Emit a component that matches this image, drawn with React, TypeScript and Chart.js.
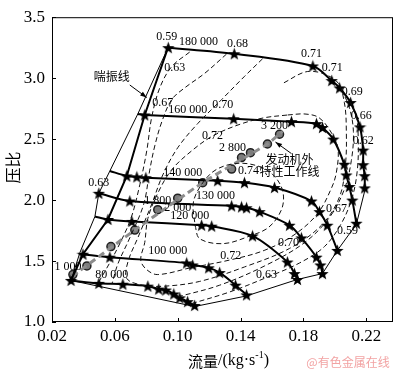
import React, { useEffect, useRef } from 'react';
import { Chart, registerables } from 'chart.js';
Chart.register(...registerables);

type Pt = [number, number];

const xTicks = [0.02, 0.06, 0.1, 0.14, 0.18, 0.22];
const yTicks = [1.0, 1.5, 2.0, 2.5, 3.0, 3.5];

// speed lines (rpm), first point may be on surge line (no star)
const speed180: Pt[] = [[0.094, 3.25], [0.136, 3.2], [0.186, 3.1], [0.198, 2.98], [0.203, 2.92], [0.21, 2.8], [0.216, 2.6], [0.218, 2.41], [0.218, 2.29], [0.219, 2.2], [0.219, 2.1]];
const speed160: Pt[] = [[0.0746, 2.706], [0.079, 2.698], [0.1356, 2.667], [0.1724, 2.643], [0.1883, 2.627], [0.1921, 2.595], [0.199, 2.5], [0.206, 2.294], [0.2073, 2.206], [0.2092, 2.111], [0.2111, 2.0], [0.2137, 1.81]];
const speed140: Pt[] = [[0.0568, 2.238], [0.0676, 2.198], [0.074, 2.19], [0.0797, 2.183], [0.1254, 2.159], [0.1425, 2.143], [0.1616, 2.103], [0.1851, 1.992], [0.1902, 1.905], [0.1952, 1.794], [0.2016, 1.587]];
const speed130: Pt[] = [[0.0498, 2.056], [0.0695, 1.992], [0.1343, 1.952], [0.1406, 1.944], [0.1438, 1.937], [0.1521, 1.905], [0.1711, 1.794], [0.1787, 1.69], [0.1883, 1.532], [0.1908, 1.468], [0.1921, 1.397]];
const speed120: Pt[] = [[0.0473, 1.865], [0.0556, 1.841], [0.0708, 1.825], [0.1152, 1.794], [0.1216, 1.786], [0.1476, 1.706], [0.1698, 1.492], [0.1743, 1.397], [0.1762, 1.349]];
const speed100: Pt[] = [[0.0397, 1.556], [0.0568, 1.532], [0.1057, 1.484], [0.1095, 1.468], [0.1197, 1.444], [0.1267, 1.405], [0.1368, 1.302], [0.1438, 1.222]];
const speed80: Pt[] = [[0.0321, 1.341], [0.0498, 1.317], [0.0651, 1.31], [0.081, 1.294], [0.0879, 1.27], [0.0924, 1.262], [0.0975, 1.23], [0.1013, 1.198], [0.1063, 1.167], [0.1108, 1.135]];

const surgeLine: Pt[] = [[0.0321, 1.341], [0.0378, 1.571], [0.0473, 1.865], [0.0498, 2.056], [0.0568, 2.238], [0.0746, 2.706], [0.0937, 3.246]];
const firstPointLine: Pt[] = [[0.0321, 1.341], [0.0397, 1.556], [0.0556, 1.841], [0.0676, 2.198], [0.079, 2.698], [0.0937, 3.246]];
const lowerLine: Pt[] = [[0.0321, 1.341], [0.1108, 1.127]];
const chokeLine: Pt[] = [[0.1108, 1.127], [0.1438, 1.214], [0.1762, 1.349], [0.1921, 1.397], [0.2016, 1.587], [0.2137, 1.802], [0.2194, 2.095]];

// engine operating line (rpm points)
const opPoints: Pt[] = [[0.0333, 1.389], [0.0422, 1.46], [0.0575, 1.619], [0.0727, 1.754], [0.0873, 1.921], [0.1, 2.016], [0.1159, 2.143], [0.1343, 2.254], [0.1406, 2.349], [0.1463, 2.389], [0.1571, 2.46], [0.1648, 2.54]];
const opTrend: Pt[] = [[0.0327, 1.373], [0.0727, 1.754], [0.1159, 2.143], [0.1571, 2.46], [0.1667, 2.563]];

// efficiency contours
const eff74: Pt[] = [[0.111, 1.794], [0.114, 1.683], [0.129, 1.643], [0.146, 1.706], [0.158, 1.778], [0.166, 1.921], [0.167, 2.063], [0.162, 2.19], [0.153, 2.27], [0.139, 2.302], [0.125, 2.254], [0.116, 2.143], [0.11, 1.984], [0.111, 1.794]];
const eff72: Pt[] = [[0.17, 2.698], [0.181, 2.706], [0.19, 2.675], [0.198, 2.548], [0.202, 2.421], [0.201, 2.23], [0.198, 2.103], [0.189, 1.889], [0.174, 1.714], [0.155, 1.587], [0.133, 1.508], [0.108, 1.444], [0.0873, 1.389], [0.0803, 1.429], [0.0765, 1.508], [0.079, 1.651], [0.081, 1.849], [0.087, 2.048], [0.096, 2.246], [0.109, 2.405], [0.122, 2.524], [0.139, 2.619], [0.155, 2.675], [0.17, 2.698]];
const eff70: Pt[] = [[0.154, 3.159], [0.1426, 3.016], [0.128, 2.825], [0.1127, 2.627], [0.1, 2.429], [0.0905, 2.206], [0.0835, 1.968], [0.0746, 1.69], [0.0683, 1.492], [0.0676, 1.357], [0.0778, 1.302], [0.0918, 1.294], [0.114, 1.333], [0.1426, 1.452], [0.1711, 1.603], [0.1915, 1.794], [0.2029, 2.024], [0.2067, 2.286], [0.2073, 2.563], [0.206, 2.802], [0.201, 2.976], [0.1838, 3.056], [0.166, 2.952]];
const eff67Left: Pt[] = [[0.1311, 3.198], [0.1172, 3.04], [0.1045, 2.921], [0.0962, 2.825], [0.0899, 2.643], [0.0854, 2.444], [0.0822, 2.246], [0.0784, 1.968], [0.0695, 1.69], [0.0619, 1.476], [0.0581, 1.31]];
const eff67Right: Pt[] = [[0.1, 1.206], [0.1267, 1.302], [0.1553, 1.46], [0.1807, 1.651], [0.1965, 1.857], [0.206, 2.087], [0.2105, 2.325], [0.2118, 2.563], [0.2092, 2.762], [0.2042, 2.905]];
const eff63Left: Pt[] = [[0.1076, 3.214], [0.0962, 3.095], [0.0886, 2.921], [0.0835, 2.683], [0.0803, 2.405], [0.0759, 2.127], [0.0702, 1.849], [0.0619, 1.611], [0.0543, 1.429], [0.0492, 1.317]];
const eff63Right: Pt[] = [[0.1089, 1.151], [0.133, 1.246], [0.1565, 1.365], [0.1775, 1.484], [0.1934, 1.619], [0.2042, 1.81], [0.2111, 2.024], [0.2143, 2.246], [0.2149, 2.484], [0.2137, 2.683], [0.2099, 2.802]];

// text labels [text, x, y]
const speedLabels: [string, number, number][] = [
  ['180 000', 0.1133, 3.294], ['160 000', 0.1064, 2.738], ['140 000', 0.1032, 2.222],
  ['130 000', 0.1241, 2.032], ['120 000', 0.1076, 1.873], ['100 000', 0.0937, 1.587], ['80 000', 0.0581, 1.389],
];
const rpmLabels: [string, number, number][] = [
  ['1 000', 0.0302, 1.452], ['1 800', 0.0873, 1.992], ['2 000', 0.1, 1.937], ['2 800', 0.1349, 2.429], ['3 200', 0.1616, 2.611],
];
const effLabels: [string, number, number][] = [
  ['0.59', 0.093, 3.342], ['0.68', 0.1381, 3.278], ['0.71', 0.1851, 3.198], ['0.71', 0.1984, 3.088],
  ['0.69', 0.2111, 2.889], ['0.66', 0.2168, 2.69], ['0.62', 0.2181, 2.484], ['0.63', 0.0981, 3.088],
  ['0.67', 0.0905, 2.794], ['0.70', 0.1286, 2.778], ['0.72', 0.1222, 2.524], ['0.74', 0.1451, 2.238],
  ['0.63', 0.0498, 2.143], ['0.67', 0.201, 1.929], ['0.59', 0.208, 1.746], ['0.70', 0.1705, 1.651],
  ['0.72', 0.1337, 1.54], ['0.63', 0.1565, 1.389],
];
const cnLabels: [string, number, number][] = [
  ['喘振线', 0.0581, 3.016], ['发动机外', 0.1711, 2.333], ['特性工作线', 0.1711, 2.238],
];
const arrows: [number, number, number, number][] = [
  [0.0695, 2.944, 0.0803, 2.841],
  [0.1724, 2.381, 0.1622, 2.476],
];

const SERIF = '"Liberation Serif", "Times New Roman", serif';
const CJK = '"Noto Sans CJK SC", sans-serif';

function makeStar(size: number) {
  const c = document.createElement('canvas');
  c.width = size;
  c.height = size;
  const g = c.getContext('2d')!;
  const R = size / 2;
  const r = R * 0.42;
  g.beginPath();
  for (let i = 0; i < 10; i++) {
    const a = -Math.PI / 2 + (i * Math.PI) / 5;
    const rr = i % 2 === 0 ? R : r;
    const px = R + rr * Math.cos(a);
    const py = R + 0.6 + rr * Math.sin(a);
    if (i === 0) g.moveTo(px, py);
    else g.lineTo(px, py);
  }
  g.closePath();
  g.fillStyle = '#000';
  g.fill();
  return c;
}

const overlay = {
  id: 'overlay',
  afterDatasetsDraw(chart: any) {
    const { ctx, scales } = chart;
    const X = (v: number) => scales.x.getPixelForValue(v);
    const Y = (v: number) => scales.y.getPixelForValue(v);
    ctx.save();
    ctx.fillStyle = '#000';
    ctx.textAlign = 'center';
    ctx.textBaseline = 'middle';
    ctx.font = `12px ${SERIF}`;
    [...speedLabels, ...rpmLabels, ...effLabels].forEach(([t, x, y]) => ctx.fillText(t, X(x), Y(y)));
    ctx.font = `12px ${CJK}`;
    cnLabels.forEach(([t, x, y]) => ctx.fillText(t, X(x), Y(y)));
    ctx.strokeStyle = '#000';
    ctx.lineWidth = 1;
    arrows.forEach(([x0, y0, x1, y1]) => {
      const ax = X(x0), ay = Y(y0), bx = X(x1), by = Y(y1);
      ctx.beginPath();
      ctx.moveTo(ax, ay);
      ctx.lineTo(bx, by);
      ctx.stroke();
      const ang = Math.atan2(by - ay, bx - ax);
      ctx.beginPath();
      ctx.moveTo(bx, by);
      ctx.lineTo(bx - 7 * Math.cos(ang - 0.35), by - 7 * Math.sin(ang - 0.35));
      ctx.lineTo(bx - 7 * Math.cos(ang + 0.35), by - 7 * Math.sin(ang + 0.35));
      ctx.closePath();
      ctx.fill();
    });
    ctx.restore();
  },
  afterDraw(chart: any) {
    const { ctx, chartArea: a, scales } = chart;
    ctx.save();
    ctx.strokeStyle = '#000';
    ctx.lineWidth = 1;
    ctx.strokeRect(a.left + 0.5, a.top + 0.5, a.right - a.left - 1, a.bottom - a.top - 1);
    ctx.beginPath();
    xTicks.forEach((v) => {
      const px = Math.round(scales.x.getPixelForValue(v)) + 0.5;
      ctx.moveTo(px, a.bottom);
      ctx.lineTo(px, a.bottom - 4);
    });
    yTicks.forEach((v) => {
      const py = Math.round(scales.y.getPixelForValue(v)) + 0.5;
      ctx.moveTo(a.left, py);
      ctx.lineTo(a.left + 4, py);
    });
    ctx.stroke();
    // y title
    ctx.fillStyle = '#000';
    ctx.font = `16px ${CJK}`;
    ctx.textAlign = 'center';
    ctx.textBaseline = 'middle';
    ctx.save();
    ctx.translate(13, (a.top + a.bottom) / 2 - 2);
    ctx.rotate(-Math.PI / 2);
    ctx.fillText('压比', 0, 0);
    ctx.restore();
    // x title
    const parts: [string, string, number][] = [
      ['流量', `15px ${CJK}`, 0],
      ['/(kg·s', `16px ${SERIF}`, 0],
      ['-1', `10px ${SERIF}`, -6],
      [')', `16px ${SERIF}`, 0],
    ];
    let total = 0;
    parts.forEach(([t, f]) => { ctx.font = f; total += ctx.measureText(t).width; });
    let cx = (a.left + a.right) / 2 + 6 - total / 2;
    const ty = 361;
    ctx.textAlign = 'left';
    parts.forEach(([t, f, dy]) => {
      ctx.font = f;
      ctx.fillText(t, cx, ty + dy);
      cx += ctx.measureText(t).width;
    });
    // watermark
    ctx.fillStyle = '#f2a3a3';
    ctx.font = `12px ${CJK}`;
    ctx.textAlign = 'center';
    ctx.fillText('@有色金属在线', a.right - 45, 362);
    ctx.restore();
  },
};

export default function App() {
  const ref = useRef<HTMLCanvasElement>(null);
  useEffect(() => {
    const star = makeStar(13);
    const toXY = (pts: Pt[]) => pts.map(([x, y]) => ({ x, y }));
    const datasets: any[] = [];
    [eff74, eff72, eff70, eff67Left, eff67Right, eff63Left, eff63Right].forEach((c) =>
      datasets.push({ data: toXY(c), showLine: true, borderColor: '#111', borderWidth: 1, borderDash: [5, 3], pointRadius: 0, tension: 0.35 })
    );
    [surgeLine, lowerLine, chokeLine].forEach((l) =>
      datasets.push({ data: toXY(l), showLine: true, borderColor: '#000', borderWidth: 1, pointRadius: 0, tension: 0 })
    );
    datasets.push({ data: toXY(firstPointLine), showLine: true, borderColor: '#000', borderWidth: 2, pointRadius: 0, tension: 0 });
    datasets.push({ data: toXY(opTrend), showLine: true, borderColor: '#8c8c8c', borderWidth: 3, borderDash: [7, 4], pointRadius: 0, tension: 0.2 });
    const speedLines: { pts: Pt[]; fromSurge: boolean }[] = [
      { pts: speed180, fromSurge: false },
      { pts: speed160, fromSurge: true },
      { pts: speed140, fromSurge: true },
      { pts: speed130, fromSurge: false },
      { pts: speed120, fromSurge: true },
      { pts: speed100, fromSurge: false },
      { pts: speed80, fromSurge: false },
    ];
    speedLines.forEach((sl) =>
      datasets.push({
        data: toXY(sl.pts),
        showLine: true,
        borderColor: '#000',
        borderWidth: 2,
        tension: 0.3,
        pointStyle: star,
        pointRadius: (c: any) => (sl.fromSurge && c.dataIndex === 0 ? 0 : 5),
      })
    );
    datasets.push({
      data: toXY(opPoints),
      showLine: false,
      pointStyle: 'circle',
      pointRadius: 4,
      pointBackgroundColor: '#7d7d7d',
      pointBorderColor: '#222',
      pointBorderWidth: 1.5,
    });

    const chart = new Chart(ref.current!, {
      type: 'scatter',
      data: { datasets },
      options: {
        animation: false,
        responsive: false,
        events: [],
        layout: { padding: { top: 7, right: 5, left: 0, bottom: 0 } },
        plugins: { legend: { display: false }, tooltip: { enabled: false } },
        scales: {
          x: {
            type: 'linear',
            min: 0.02,
            max: 0.237,
            afterBuildTicks: (s: any) => { s.ticks = xTicks.map((v) => ({ value: v })); },
            afterFit: (s: any) => { s.height = 48; },
            grid: { display: false, drawTicks: false },
            border: { display: false },
            ticks: {
              padding: 4,
              color: '#000',
              maxRotation: 0,
              autoSkip: false,
              font: { family: SERIF, size: 17 },
              callback: (v: any) => Number(v).toFixed(2),
            },
          },
          y: {
            type: 'linear',
            min: 1,
            max: 3.5,
            afterBuildTicks: (s: any) => { s.ticks = yTicks.map((v) => ({ value: v })); },
            afterFit: (s: any) => { s.width = 52; },
            grid: { display: false, drawTicks: false },
            border: { display: false },
            ticks: {
              padding: 7,
              color: '#000',
              autoSkip: false,
              font: { family: SERIF, size: 17 },
              callback: (v: any) => Number(v).toFixed(1),
            },
          },
        },
      } as any,
      plugins: [overlay as any],
    });
    return () => chart.destroy();
  }, []);

  return (
    <div style={{ position: 'absolute', left: 0, top: 0, width: 400, height: 370, background: '#fff' }}>
      <canvas ref={ref} width={400} height={370} />
    </div>
  );
}
